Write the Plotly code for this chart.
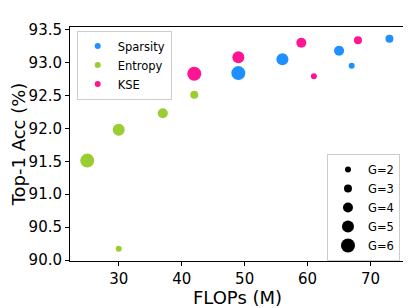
import plotly.graph_objects as go

# ---- data ----
sparsity_flops = [49, 56, 65, 67, 73]
sparsity_acc = [92.84, 93.05, 93.18, 92.95, 93.36]
sparsity_g = [6, 5, 4, 2, 3]

entropy_flops = [25, 30, 30, 37, 42]
entropy_acc = [91.51, 91.98, 90.17, 92.23, 92.51]
entropy_g = [6, 5, 2, 4, 3]

kse_flops = [42, 49, 59, 61, 68]
kse_acc = [92.83, 93.08, 93.30, 92.79, 93.34]
kse_g = [6, 5, 4, 2, 3]

group_labels = ["G=2", "G=3", "G=4", "G=5", "G=6"]
group_values = [2, 3, 4, 5, 6]

x_ticks = [30, 40, 50, 60, 70]
y_ticks = [90.0, 90.5, 91.0, 91.5, 92.0, 92.5, 93.0, 93.5]

# ---- style ----
FONT = "DejaVu Sans"
def gsize(g):
    return 2 * g + 2

series = [
    ("Sparsity", sparsity_flops, sparsity_acc, sparsity_g, "#1E90FF"),
    ("Entropy", entropy_flops, entropy_acc, entropy_g, "#9ACD32"),
    ("KSE", kse_flops, kse_acc, kse_g, "#FF1493"),
]

fig = go.Figure()
for name, xs, ys, gs, col in series:
    fig.add_trace(go.Scatter(
        x=xs, y=ys, mode="markers", showlegend=False, hoverinfo="x+y",
        marker=dict(color=col, size=[gsize(g) for g in gs], opacity=1, line=dict(width=0)),
    ))
# legend 1 (colors)
for name, xs, ys, gs, col in series:
    fig.add_trace(go.Scatter(
        x=[None], y=[None], mode="markers", name=name, legend="legend",
        marker=dict(color=col, size=6, opacity=1, line=dict(width=0)),
    ))
# legend 2 (sizes)
for lab, g in zip(group_labels, group_values):
    fig.add_trace(go.Scatter(
        x=[None], y=[None], mode="markers", name=lab, legend="legend2",
        marker=dict(color="black", size=gsize(g), opacity=1, line=dict(width=0)),
    ))

axis_common = dict(
    showline=True, linecolor="black", linewidth=1, mirror=True,
    ticks="outside", ticklen=4, tickwidth=1, tickcolor="black",
    showgrid=False, zeroline=False, automargin=False,
    tickfont=dict(family=FONT, size=15, color="black"),
)

fig.update_layout(
    width=403, height=300,
    margin=dict(l=62, r=6, t=19, b=47),
    paper_bgcolor="white", plot_bgcolor="white",
    font=dict(family=FONT, color="black"),
    xaxis=dict(range=[22.26, 75.47], tickvals=x_ticks,
               title=dict(text="FLOPs (M)", font=dict(family=FONT, size=18), standoff=4),
               **axis_common),
    yaxis=dict(range=[89.985, 93.54], tickvals=y_ticks,
               ticktext=[f"{v:.1f}" for v in y_ticks],
               title=dict(text="Top-1 Acc (%)", font=dict(family=FONT, size=18), standoff=8),
               **axis_common),
    legend=dict(x=0.02, y=0.985, xanchor="left", yanchor="top",
                bgcolor="rgba(255,255,255,0.8)", bordercolor="#cccccc", borderwidth=1,
                font=dict(family=FONT, size=11.5), itemsizing="trace",
                tracegroupgap=0),
    legend2=dict(x=0.985, y=0.0, xanchor="right", yanchor="bottom",
                 bgcolor="rgba(255,255,255,0.8)", bordercolor="#cccccc", borderwidth=1,
                 font=dict(family=FONT, size=11.5), itemsizing="trace",
                 tracegroupgap=0),
)

fig.write_html("out.html")
